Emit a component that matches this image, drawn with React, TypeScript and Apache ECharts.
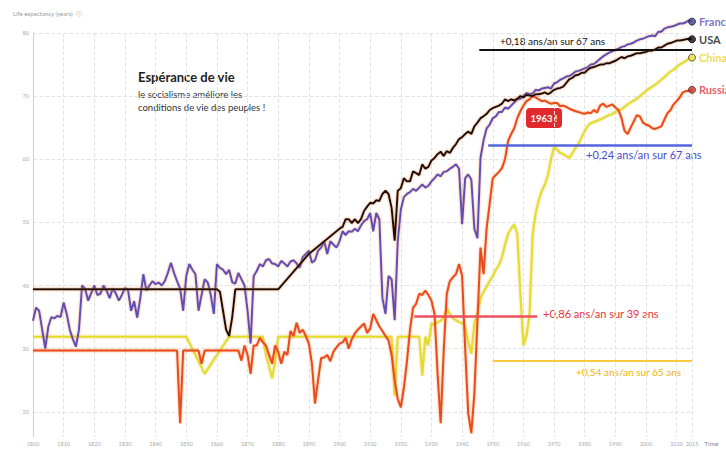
import React, { useEffect, useRef } from 'react';
import * as echarts from 'echarts';

// [year, life expectancy]
const franceData: [number, number][] = [
  [1800,34.4],[1801,36.5],[1802,36.0],[1803,33.0],[1804,30.0],[1805,33.5],[1806,35.0],[1807,34.8],[1808,35.2],[1809,35.0],
  [1810,37.3],[1811,35.5],[1812,33.0],[1813,31.5],[1814,30.3],[1815,33.0],[1816,40.0],[1817,39.5],[1818,37.6],[1819,38.8],
  [1820,40.0],[1821,38.5],[1822,38.7],[1823,40.0],[1824,39.2],[1825,38.0],[1826,39.5],[1827,38.8],[1828,37.6],[1829,38.5],
  [1830,39.6],[1831,39.3],[1832,36.0],[1833,37.5],[1834,34.9],[1835,38.0],[1836,41.8],[1837,39.2],[1838,40.0],[1839,40.7],
  [1840,40.2],[1841,40.5],[1842,40.0],[1843,40.7],[1844,42.0],[1845,43.6],[1846,42.0],[1847,40.7],[1848,39.5],[1849,36.0],
  [1850,41.5],[1851,43.4],[1852,42.5],[1853,41.8],[1854,36.0],[1855,38.5],[1856,41.0],[1857,40.5],[1858,38.5],[1859,35.5],
  [1860,43.4],[1861,42.8],[1862,42.5],[1863,41.8],[1864,42.5],[1865,40.5],[1866,40.3],[1867,42.0],[1868,41.0],[1869,40.0],
  [1870,36.0],[1871,30.8],[1872,41.5],[1873,42.3],[1874,43.4],[1875,43.0],[1876,44.0],[1877,44.2],[1878,43.5],[1879,43.4],
  [1880,43.0],[1881,43.9],[1882,43.5],[1883,43.0],[1884,43.8],[1885,44.0],[1886,43.5],[1887,42.8],[1888,44.5],[1889,45.0],
  [1890,45.5],[1891,43.6],[1892,44.0],[1893,45.5],[1894,46.0],[1895,47.0],[1896,45.0],[1897,47.0],[1898,46.5],[1899,46.0],
  [1900,47.0],[1901,48.6],[1902,48.0],[1903,48.6],[1904,48.5],[1905,49.0],[1906,48.6],[1907,49.5],[1908,50.2],[1909,50.5],
  [1910,51.5],[1911,48.6],[1912,51.5],[1913,50.5],[1914,38.0],[1915,35.5],[1916,41.5],[1917,41.0],[1918,34.5],[1919,47.0],
  [1920,52.0],[1921,54.0],[1922,54.5],[1923,54.8],[1924,55.3],[1925,55.0],[1926,55.5],[1927,56.0],[1928,55.5],[1929,55.8],
  [1930,56.5],[1931,57.0],[1932,57.6],[1933,57.3],[1934,58.0],[1935,58.1],[1936,58.5],[1937,58.8],[1938,59.2],[1939,58.5],
  [1940,49.7],[1941,57.0],[1942,57.6],[1943,56.8],[1944,49.0],[1945,47.5],[1946,60.2],[1947,63.0],[1948,64.9],[1949,65.5],
  [1950,66.5],[1951,66.8],[1952,67.5],[1953,67.5],[1954,68.2],[1955,68.0],[1956,68.5],[1957,69.0],[1958,69.5],[1959,69.6],
  [1960,70.0],[1961,70.5],[1962,70.3],[1963,70.4],[1964,71.0],[1965,70.9],[1966,71.2],[1967,71.3],[1968,71.4],[1969,71.2],
  [1970,72.0],[1971,72.2],[1972,72.6],[1973,72.8],[1974,73.1],[1975,73.2],[1976,73.5],[1977,73.9],[1978,74.0],[1979,74.2],
  [1980,74.4],[1981,74.6],[1982,75.0],[1983,75.1],[1984,75.5],[1985,75.9],[1986,76.3],[1987,76.6],[1988,76.9],[1989,77.1],
  [1990,77.3],[1991,77.5],[1992,77.8],[1993,77.9],[1994,78.2],[1995,78.3],[1996,78.5],[1997,78.8],[1998,79.0],[1999,79.1],
  [2000,79.3],[2001,79.5],[2002,79.6],[2003,79.5],[2004,80.2],[2005,80.2],[2006,80.7],[2007,80.9],[2008,81.0],[2009,81.1],
  [2010,81.3],[2011,81.5],[2012,81.5],[2013,81.7],[2014,82.0],[2015,81.8],
];

const usaData: [number, number][] = [
  [1800,39.4],[1860,39.4],[1861,39.0],[1862,36.0],[1863,33.0],[1864,32.0],[1865,35.0],[1866,39.4],[1880,39.4],[1890,45.0],
  [1900,49.0],[1901,49.3],[1902,50.5],[1903,50.5],[1904,49.9],[1905,50.5],[1906,49.9],[1907,50.5],[1908,51.8],[1909,52.5],
  [1910,53.1],[1911,53.0],[1912,53.5],[1913,53.4],[1914,54.5],[1915,55.0],[1916,54.5],[1917,52.3],[1918,47.1],[1919,55.0],
  [1920,55.4],[1921,57.0],[1922,56.5],[1923,56.5],[1924,58.1],[1925,57.8],[1926,57.5],[1927,59.2],[1928,58.5],[1929,58.8],
  [1930,59.8],[1931,60.2],[1932,60.8],[1933,61.2],[1934,60.5],[1935,61.3],[1936,61.0],[1937,61.8],[1938,62.4],[1939,63.2],
  [1940,63.5],[1941,64.0],[1942,64.4],[1943,64.0],[1944,65.2],[1945,65.8],[1946,66.5],[1947,66.8],[1948,67.2],[1949,67.8],
  [1950,68.1],[1951,68.3],[1952,68.5],[1953,68.8],[1954,69.5],[1955,69.2],[1956,69.5],[1957,69.3],[1958,69.6],[1959,70.0],
  [1960,69.8],[1961,70.2],[1962,70.1],[1963,70.0],[1964,70.3],[1965,70.3],[1966,70.4],[1967,70.6],[1968,70.3],[1969,70.6],
  [1970,71.0],[1971,71.2],[1972,71.3],[1973,71.5],[1974,72.1],[1975,72.7],[1976,72.9],[1977,73.3],[1978,73.4],[1979,73.7],
  [1980,73.7],[1981,74.2],[1982,74.5],[1983,74.6],[1984,74.8],[1985,75.0],[1986,75.0],[1987,75.2],[1988,75.2],[1989,75.4],
  [1990,75.6],[1991,75.9],[1992,76.2],[1993,76.0],[1994,76.3],[1995,76.4],[1996,76.6],[1997,76.8],[1998,76.8],[1999,76.9],
  [2000,77.0],[2001,77.2],[2002,77.2],[2003,77.4],[2004,77.7],[2005,77.7],[2006,78.0],[2007,78.3],[2008,78.4],[2009,78.6],
  [2010,78.8],[2011,78.8],[2012,78.9],[2013,79.0],[2014,79.1],[2015,79.0],
];

const chinaData: [number, number][] = [
  [1800,31.9],[1850,31.9],[1853,29.0],[1856,26.0],[1860,29.0],[1864,31.9],[1875,31.9],[1876,29.0],[1878,25.3],[1879,28.0],
  [1880,31.9],[1917,31.9],[1918,22.5],[1919,31.9],[1926,31.9],[1927,25.7],[1928,31.9],[1929,30.5],[1930,34.0],[1931,33.8],
  [1932,34.2],[1933,34.4],[1934,35.0],[1935,36.3],[1936,35.5],[1937,34.8],[1938,34.5],[1939,34.2],[1940,34.0],[1941,33.5],
  [1942,31.0],[1943,29.2],[1944,34.0],[1945,35.5],[1946,38.0],[1947,39.0],[1948,39.8],[1949,40.7],[1950,41.5],[1951,42.5],
  [1952,43.2],[1953,44.5],[1954,46.5],[1955,48.2],[1956,49.0],[1957,49.7],[1958,48.2],[1959,38.7],[1960,30.5],[1961,32.0],
  [1962,35.5],[1963,48.0],[1964,51.5],[1965,53.5],[1966,55.0],[1967,56.0],[1968,57.5],[1969,60.0],[1970,62.0],[1971,61.5],
  [1972,61.0],[1973,60.8],[1974,60.5],[1975,60.2],[1976,61.0],[1977,61.8],[1978,62.5],[1979,63.5],[1980,64.5],[1981,65.3],
  [1982,65.7],[1983,65.9],[1984,66.1],[1985,66.3],[1986,66.5],[1987,66.8],[1988,67.0],[1989,67.2],[1990,67.5],[1991,67.7],
  [1992,67.9],[1993,68.3],[1994,68.7],[1995,69.0],[1996,69.3],[1997,69.6],[1998,70.0],[1999,70.4],[2000,70.8],[2001,71.2],
  [2002,71.5],[2003,71.8],[2004,72.2],[2005,72.6],[2006,73.0],[2007,73.5],[2008,73.9],[2009,74.2],[2010,74.6],[2011,75.0],
  [2012,75.3],[2013,75.6],[2014,75.9],[2015,76.1],
];

const russiaData: [number, number][] = [
  [1800,29.7],[1847,29.7],[1848,18.2],[1849,29.7],[1854,29.7],[1855,27.6],[1856,29.7],[1867,29.7],[1868,28.1],[1869,30.5],
  [1870,29.0],[1871,26.0],[1872,30.5],[1873,30.5],[1874,31.7],[1875,31.0],[1876,30.5],[1877,29.0],[1878,27.6],[1879,30.5],
  [1880,29.5],[1881,27.6],[1882,29.5],[1883,29.0],[1884,32.8],[1885,32.0],[1886,34.1],[1887,32.5],[1888,33.0],[1889,32.0],
  [1890,30.8],[1891,27.6],[1892,21.3],[1893,25.0],[1894,28.5],[1895,28.6],[1896,29.0],[1897,28.0],[1898,29.5],[1899,30.2],
  [1900,30.8],[1901,31.0],[1902,31.7],[1903,30.0],[1904,31.5],[1905,32.4],[1906,33.0],[1907,33.5],[1908,34.0],[1909,32.5],
  [1910,33.2],[1911,35.5],[1912,34.5],[1913,33.5],[1914,32.8],[1915,32.0],[1916,31.3],[1917,29.0],[1918,25.0],[1919,22.0],
  [1920,20.7],[1921,23.8],[1922,28.0],[1923,33.0],[1924,36.5],[1925,37.1],[1926,38.7],[1927,38.5],[1928,39.2],[1929,38.5],
  [1930,37.6],[1931,35.5],[1932,26.0],[1933,18.2],[1934,29.7],[1935,38.7],[1936,40.7],[1937,41.3],[1938,41.8],[1939,43.4],
  [1940,41.5],[1941,30.0],[1942,19.7],[1943,16.6],[1944,22.9],[1945,34.4],[1946,46.0],[1947,41.8],[1948,49.1],[1949,53.0],
  [1950,57.0],[1951,57.5],[1952,58.0],[1953,58.6],[1954,60.0],[1955,62.9],[1956,64.0],[1957,64.9],[1958,66.5],[1959,67.6],
  [1960,68.5],[1961,69.2],[1962,69.5],[1963,70.0],[1964,69.8],[1965,69.5],[1966,69.2],[1967,69.3],[1968,69.0],[1969,68.8],
  [1970,68.9],[1971,68.9],[1972,68.4],[1973,68.5],[1974,68.3],[1975,68.0],[1976,67.8],[1977,67.6],[1978,67.5],[1979,67.3],
  [1980,67.2],[1981,67.4],[1982,67.3],[1983,67.8],[1984,67.4],[1985,68.5],[1986,68.8],[1987,68.3],[1988,68.5],[1989,68.7],
  [1990,68.2],[1991,67.8],[1992,66.5],[1993,64.5],[1994,64.0],[1995,65.0],[1996,66.0],[1997,67.0],[1998,66.8],[1999,65.8],
  [2000,65.5],[2001,65.3],[2002,64.9],[2003,64.8],[2004,65.0],[2005,65.2],[2006,66.3],[2007,67.3],[2008,67.8],[2009,68.7],
  [2010,69.2],[2011,69.8],[2012,70.6],[2013,70.8],[2014,70.8],[2015,71.0],
];

const countryNames = ['France', 'USA', 'China', 'Russia'];

// Trend annotations: [startYear, endYear, level]
const usaTrend: [number, number, number] = [1945.6, 2015, 77.4];
const franceTrend: [number, number, number] = [1948.5, 2015, 62.2];
const russiaTrend: [number, number, number] = [1924.4, 1964.5, 35.2];
const chinaTrend: [number, number, number] = [1950, 2015, 28.1];

const trendLabels = [
  '+0,18 ans/an sur 67 ans',
  '+0,24 ans/an sur 67 ans',
  '+0,86 ans/an sur 39 ans',
  '+0,54 ans/an sur 65 ans',
];

const FONT = 'Lato, "Open Sans", sans-serif';

function trendMarkLine(t: [number, number, number], color: string, width: number) {
  return {
    silent: true,
    symbol: ['none', 'none'],
    label: { show: false },
    lineStyle: { color, width, type: 'solid', opacity: 1, shadowBlur: 0 },
    emphasis: { disabled: true },
    data: [[{ coord: [t[0], t[2]] }, { coord: [t[1], t[2]] }]],
  };
}

function lineSeries(name: string, data: [number, number][], color: string, halo: string, mark: any) {
  return {
    name,
    type: 'line',
    data,
    showSymbol: false,
    symbol: 'none',
    clip: false,
    lineStyle: { color, width: 2, shadowColor: halo, shadowBlur: 2 },
    markLine: mark,
  };
}

export default function App() {
  const ref = useRef<HTMLDivElement>(null);
  useEffect(() => {
    const chart = echarts.init(ref.current!, null, { renderer: 'svg' });
    const last = (d: [number, number][]) => d[d.length - 1];
    const option: any = {
      animation: false,
      backgroundColor: '#fff',
      textStyle: { fontFamily: FONT },
      grid: { left: 33, right: 34, top: 33, bottom: 13, containLabel: false },
      xAxis: {
        type: 'value',
        min: 1800,
        max: 2015,
        interval: 10,
        name: 'Time',
        nameLocation: 'end',
        nameGap: 8,
        nameTextStyle: { fontSize: 6.5, color: '#888', verticalAlign: 'top', padding: [3, 0, 0, 0] },
        axisLine: { show: false },
        axisTick: { show: false },
        axisLabel: { fontSize: 5.5, color: '#aaa', margin: 4, formatter: (v: number) => String(v) },
        splitLine: { show: true, lineStyle: { color: '#e4e4e4', type: 'dashed', width: 1 } },
      },
      yAxis: {
        type: 'value',
        min: 16,
        max: 80,
        axisLine: { show: true, lineStyle: { color: '#d0d0d0', width: 1 } },
        axisTick: { show: false },
        axisLabel: {
          fontSize: 5.5,
          color: '#aaa',
          margin: 4,
          formatter: (v: number) => (v % 10 === 0 ? String(v) : ''),
        },
        splitLine: {
          show: true,
          lineStyle: {
            color: ['rgba(0,0,0,0)', '#e4e4e4', '#e4e4e4', '#e4e4e4', '#e4e4e4', '#e4e4e4', '#e4e4e4', '#e4e4e4'],
            type: 'dashed',
          },
        },
      },
      series: [
        lineSeries('China', chinaData, '#e2df2a', 'rgba(230,170,40,0.6)', trendMarkLine(chinaTrend, '#f6b900', 1.5)),
        lineSeries('Russia', russiaData, '#ec4a1c', 'rgba(240,120,40,0.6)', trendMarkLine(russiaTrend, '#ee4f5e', 2.5)),
        lineSeries('France', franceData, '#5b50b8', 'rgba(235,140,60,0.7)', trendMarkLine(franceTrend, '#5566dd', 2.5)),
        lineSeries('USA', usaData, '#1c1008', 'rgba(200,110,50,0.7)', trendMarkLine(usaTrend, '#111111', 1.8)),
        {
          type: 'scatter',
          clip: false,
          symbol: 'circle',
          symbolSize: 7,
          z: 5,
          label: { show: true, position: 'right', distance: 3, fontSize: 11, fontWeight: 'bold', fontFamily: FONT },
          data: [
            { value: last(franceData), name: countryNames[0], itemStyle: { color: '#4040a0', borderColor: '#222', borderWidth: 1 }, label: { formatter: countryNames[0], color: '#5b50b8' } },
            { value: last(usaData), name: countryNames[1], itemStyle: { color: '#151020', borderColor: '#000', borderWidth: 1 }, label: { formatter: countryNames[1], color: '#111' } },
            { value: last(chinaData), name: countryNames[2], itemStyle: { color: '#e8e040', borderColor: '#333', borderWidth: 1 }, label: { formatter: countryNames[2], color: '#ecd21a' } },
            { value: last(russiaData), name: countryNames[3], itemStyle: { color: '#d83030', borderColor: '#333', borderWidth: 1 }, label: { formatter: countryNames[3], color: '#d9363e' } },
          ],
        },
      ],
      graphic: [
        { type: 'text', left: 13, top: 10, style: { text: 'Life expectancy (years)  ⓘ', fontSize: 6, fill: '#999', fontFamily: FONT } },
        { type: 'text', left: 138, top: 70, style: { text: 'Espérance de vie', fontSize: 13, fontWeight: 'bold', fill: '#222', fontFamily: FONT } },
        { type: 'text', left: 138, top: 89, style: { text: 'le socialisme améliore les', fontSize: 9.5, fill: '#333', fontFamily: FONT } },
        { type: 'text', left: 138, top: 102, style: { text: 'conditions de vie des peuples !', fontSize: 9.5, fill: '#333', fontFamily: FONT } },
        { type: 'text', left: 500, top: 36, style: { text: trendLabels[0], fontSize: 10, fill: '#111', fontFamily: FONT } },
        { type: 'text', left: 586, top: 149, style: { text: trendLabels[1], fontSize: 11, fill: '#4a4ad0', fontFamily: FONT } },
        { type: 'text', left: 543, top: 308, style: { text: trendLabels[2], fontSize: 11, fill: '#e8333a', fontFamily: FONT } },
        { type: 'text', left: 576, top: 367, style: { text: trendLabels[3], fontSize: 10, fill: '#f0b400', fontFamily: FONT } },
        {
          type: 'group',
          left: 526,
          top: 108,
          children: [
            { type: 'rect', shape: { x: 0, y: 0, width: 36, height: 20, r: 4 }, style: { fill: '#e22a2e' } },
            { type: 'text', x: 18, y: 10, style: { text: '1963 !', fontSize: 9.5, fontWeight: 'bold', fill: '#fff', align: 'center', verticalAlign: 'middle', fontFamily: FONT } },
          ],
        },
      ],
    };
    chart.setOption(option);
    return () => chart.dispose();
  }, []);
  return (
    <div
      ref={ref}
      style={{ position: 'fixed', left: 0, top: 0, width: 726, height: 450, background: '#fff' }}
    />
  );
}
